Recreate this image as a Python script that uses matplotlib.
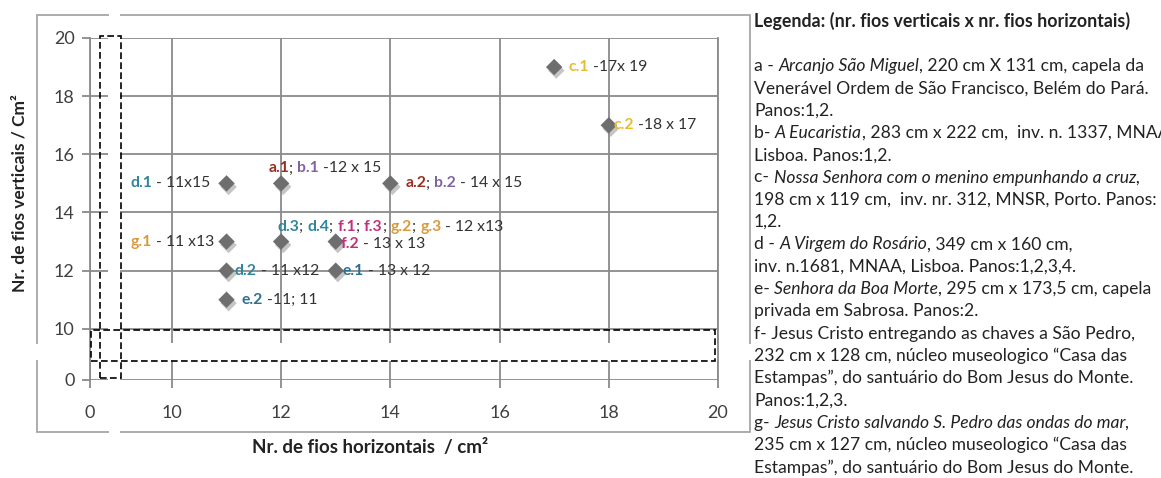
import numpy as np
import matplotlib
matplotlib.use('Agg')
import matplotlib.pyplot as plt
import matplotlib.patheffects as pe
from matplotlib.patches import Rectangle
from matplotlib.ticker import FixedLocator

plt.rcParams['font.family'] = ['Lato', 'DejaVu Sans']

# Data: thread counts per cm2 (horizontal x vertical)
fios_horizontais = [11, 12, 14, 17, 18, 11, 12, 13, 11, 13, 11]
fios_verticais = [15, 15, 15, 19, 17, 13, 13, 13, 12, 12, 11]
codigos = [
    ['d.1'],
    ['a.1', 'b.1'],
    ['a.2', 'b.2'],
    ['c.1'],
    ['c.2'],
    ['g.1'],
    ['d.3', 'd.4', 'f.1', 'f.3', 'g.2', 'g.3'],
    ['f.2'],
    ['d.2'],
    ['e.1'],
    ['e.2'],
]
medidas = [' - 11x15', ' -12 x 15', ' - 14 x 15', ' -17x 19', ' -18 x 17',
           ' - 11 x13', ' - 12 x13', ' - 13 x 13', ' - 11 x12', ' - 13 x 12',
           ' -11; 11']

x_ticks = [0, 10, 12, 14, 16, 18, 20]
y_ticks = [0, 10, 12, 14, 16, 18, 20]

# colour of each painting code
cores = {
    'a': '#9b2d20',
    'b': '#8064a2',
    'c': '#e8bc32',
    'd': '#31859c',
    'e': '#2e6e8e',
    'f': '#c0307a',
    'g': '#d99a3e',
}
TXT = '#333333'

# label placement (offset in pixels, alignment)
posicoes = [(-16, 0, 'right'), (-13, 15, 'left'), (15, 0, 'left'),
            (14, 0, 'left'), (5, 0, 'left'), (-12, 0, 'right'),
            (-4, 15, 'left'), (5, -2, 'left'), (8, 0, 'left'),
            (7, 0, 'left'), (15, 0, 'left')]

legenda_titulo = 'Legenda: (nr. fios verticais x nr. fios horizontais)'
legenda = [
    [('a - ', 'normal'), ('Arcanjo São Miguel', 'italic'), (', 220 cm X 131 cm, capela da', 'normal')],
    [('Venerável Ordem de São Francisco, Belém do Pará.', 'normal')],
    [('Panos:1,2.', 'normal')],
    [('b- ', 'normal'), ('A Eucaristia', 'italic'), (', 283 cm x 222 cm,  inv. n. 1337, MNAA', 'normal')],
    [('Lisboa. Panos:1,2.', 'normal')],
    [('c- ', 'normal'), ('Nossa Senhora com o menino empunhando a cruz,', 'italic')],
    [('198 cm x 119 cm,  inv. nr. 312, MNSR, Porto. Panos:', 'normal')],
    [('1,2.', 'normal')],
    [('d - ', 'normal'), ('A Virgem do Rosário', 'italic'), (', 349 cm x 160 cm,', 'normal')],
    [('inv. n.1681, MNAA, Lisboa. Panos:1,2,3,4.', 'normal')],
    [('e- ', 'normal'), ('Senhora da Boa Morte', 'italic'), (', 295 cm x 173,5 cm, capela', 'normal')],
    [('privada em Sabrosa. Panos:2.', 'normal')],
    [('f- Jesus Cristo entregando as chaves a São Pedro,', 'normal')],
    [('232 cm x 128 cm, núcleo museologico “Casa das', 'normal')],
    [('Estampas”, do santuário do Bom Jesus do Monte.', 'normal')],
    [('Panos:1,2,3.', 'normal')],
    [('g- ', 'normal'), ('Jesus Cristo salvando S. Pedro das ondas do mar,', 'italic')],
    [('235 cm x 127 cm, núcleo museologico “Casa das', 'normal')],
    [('Estampas”, do santuário do Bom Jesus do Monte.', 'normal')],
]


# broken axes: the 0..10 stretch is squeezed
def fwd_x(v):
    v = np.asarray(v, dtype=float)
    return np.where(v < 10, v * 0.15, v - 8.5)


def inv_x(u):
    u = np.asarray(u, dtype=float)
    return np.where(u < 1.5, u / 0.15, u + 8.5)


def fwd_y(v):
    v = np.asarray(v, dtype=float)
    return np.where(v < 10, v * 0.176, v - 8.24)


def inv_y(u):
    u = np.asarray(u, dtype=float)
    return np.where(u < 1.76, u / 0.176, u + 8.24)


W, H = 1161, 478
fig = plt.figure(figsize=(W / 100, H / 100), dpi=100)
ax = fig.add_axes([90 / W, 1 - 380 / H, 628 / W, 342 / H])

ax.set_xscale('function', functions=(fwd_x, inv_x))
ax.set_yscale('function', functions=(fwd_y, inv_y))
ax.set_xlim(0, 20)
ax.set_ylim(0, 20)
ax.xaxis.set_major_locator(FixedLocator(x_ticks))
ax.yaxis.set_major_locator(FixedLocator(y_ticks))
ax.xaxis.set_minor_locator(FixedLocator([]))
ax.yaxis.set_minor_locator(FixedLocator([]))
ax.set_xticklabels([str(t) for t in x_ticks])
ax.set_yticklabels([str(t) for t in y_ticks])

GRID = '#8a8a8a'
ax.grid(True, color=GRID, lw=1.3)
ax.set_axisbelow(True)
for s in ['top', 'bottom']:
    ax.spines[s].set_visible(False)
for s in ['left', 'right']:
    ax.spines[s].set_color(GRID)
    ax.spines[s].set_linewidth(1.3)
ax.tick_params(direction='out', length=6, width=1.3, color=GRID,
               labelsize=13, labelcolor='#404040', pad=5)
ax.tick_params(axis='x', pad=12)

# gaps of the broken axes in the grid
ax.add_patch(Rectangle((18 / 628, -0.02), 12 / 628, 1.04, transform=ax.transAxes,
                       facecolor='white', edgecolor='none', zorder=1, clip_on=False))
ax.add_patch(Rectangle((0, 19 / 342), 1, 18 / 342, transform=ax.transAxes,
                       facecolor='white', edgecolor='none', zorder=1))

# dashed boxes marking the breaks
ax.add_patch(Rectangle((10 / 628, 2 / 342), 21 / 628, 342 / 342, transform=ax.transAxes,
                       fill=False, edgecolor='black', ls=(0, (4, 2)), lw=1.2,
                       zorder=3, clip_on=False))
ax.add_patch(Rectangle((1 / 628, 19 / 342), 624 / 628, 31 / 342, transform=ax.transAxes,
                       fill=False, edgecolor='black', ls=(0, (4, 2)), lw=1.2,
                       zorder=3, clip_on=False))

# points
ax.scatter(fios_horizontais, fios_verticais, marker='D', s=70, color='#6e6e6e',
           edgecolors='none', zorder=5,
           path_effects=[pe.SimplePatchShadow(offset=(1.5, -2.5), shadow_rgbFace='0.55', alpha=0.5),
                         pe.Normal()])


# labels built from coloured pieces
def pecas(cods, medida):
    out = []
    for i, c in enumerate(cods):
        if i > 0:
            out.append(('; ', TXT, 'normal'))
        out.append((c, cores[c[0]], 'bold'))
    out.append((medida, TXT, 'normal'))
    return out


FS = 11.3
for x, y, cods, med, (dx, dy, ha) in zip(fios_horizontais, fios_verticais, codigos, medidas, posicoes):
    segs = pecas(cods, med)
    if ha == 'left':
        prev = ax.annotate(segs[0][0], xy=(x, y), xytext=(dx, dy), textcoords='offset pixels',
                           ha='left', va='center', color=segs[0][1], fontweight=segs[0][2],
                           fontsize=FS, zorder=6)
        for t, c, w in segs[1:]:
            prev = ax.annotate(t, xy=(1, 0), xycoords=prev, ha='left', va='bottom',
                               color=c, fontweight=w, fontsize=FS, zorder=6)
    else:
        segs = segs[::-1]
        prev = ax.annotate(segs[0][0], xy=(x, y), xytext=(dx, dy), textcoords='offset pixels',
                           ha='right', va='center', color=segs[0][1], fontweight=segs[0][2],
                           fontsize=FS, zorder=6)
        for t, c, w in segs[1:]:
            prev = ax.annotate(t, xy=(0, 0), xycoords=prev, ha='right', va='bottom',
                               color=c, fontweight=w, fontsize=FS, zorder=6)

# axis titles
fig.text(370 / W, 1 - 447 / H, 'Nr. de fios horizontais  / cm²', ha='center', va='center',
         fontsize=13.5, fontweight='bold', color='#222222')
fig.text(20 / W, 1 - 193 / H, 'Nr. de fios verticais / Cm²', ha='center', va='center',
         rotation=90, fontsize=12.5, fontweight='bold', color='#222222')

# overlay for the chart frame and the legend text
ov = fig.add_axes([0, 0, 1, 1])
ov.set_xlim(0, W)
ov.set_ylim(H, 0)
ov.axis('off')
ov.patch.set_alpha(0)
ov.add_patch(Rectangle((37, 15), 713, 417, fill=False, edgecolor='#a6a6a6', lw=1.3))
# breaks in the frame
ov.add_patch(Rectangle((109, 10), 11, 8, facecolor='white', edgecolor='none'))
ov.add_patch(Rectangle((109, 428), 11, 8, facecolor='white', edgecolor='none'))
ov.add_patch(Rectangle((33, 344), 8, 16, facecolor='white', edgecolor='none'))
ov.add_patch(Rectangle((746, 344), 8, 16, facecolor='white', edgecolor='none'))

LFS = 12.6
ov.text(754, 21, legenda_titulo, ha='left', va='center', fontsize=12.8,
        fontweight='bold', color='#222222')
for i, linha in enumerate(legenda):
    yy = 66 + 22.3 * i
    prev = ov.annotate(linha[0][0], xy=(754, yy), ha='left', va='center', fontsize=LFS,
                       fontstyle=linha[0][1], color='#222222', annotation_clip=False)
    for t, st in linha[1:]:
        prev = ov.annotate(t, xy=(1, 0), xycoords=prev, ha='left', va='bottom',
                           fontsize=LFS, fontstyle=st, color='#222222',
                           annotation_clip=False)

fig.savefig('out.png', dpi=100)
